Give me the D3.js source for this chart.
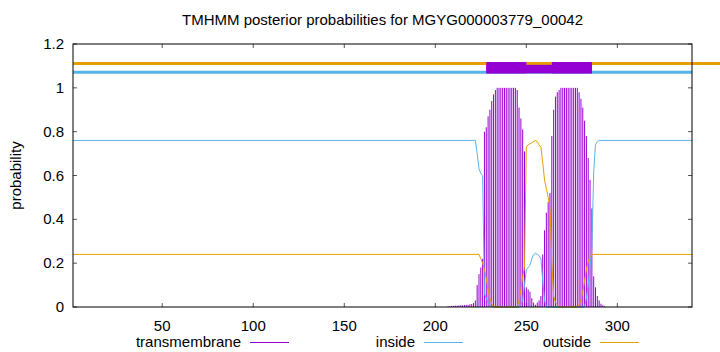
<!DOCTYPE html>
<html lang="en">
<head>
    <meta charset="utf-8">
    <title>TMHMM posterior probabilities</title>
    <style>
        body { margin: 0; background: white; }
        svg { display: block; font-family: "Liberation Sans", Arial, sans-serif; font-size: 15px; }
        .tick-label { fill: black; }
    </style>
</head>
<body>
<svg width="720" height="352"></svg>

<script src="https://d3js.org/d3.v7.min.js"></script>
<script>
  const title = "TMHMM posterior probabilities for MGYG000003779_00042";
  const seqLength = 341;
  const xTicks = [50, 100, 150, 200, 250, 300];
  const yTicks = [0, 0.2, 0.4, 0.6, 0.8, 1, 1.2];

  // transmembrane posterior, one value per residue starting at tmFirst
  const tmFirst = 207;
  const tmValues = [
    0.003, 0.004, 0.005, 0.005, 0.006, 0.006, 0.007, 0.008, 0.008, 0.009,  // 207-216
    0.010, 0.010, 0.012, 0.014, 0.018, 0.03, 0.10, 0.15, 0.18, 0.22,       // 217-226
    0.80, 0.82, 0.87, 0.90, 0.94, 0.97, 0.99, 1, 1, 1,                     // 227-236
    1, 1, 1, 1, 1, 1, 1, 1, 0.99, 0.91,                                    // 237-246
    0.86, 0.81, 0.71, 0.09, 0.08, 0.07, 0.04, 0.02, 0.01, 0.02,            // 247-256
    0.03, 0.05, 0.24, 0.35, 0.43, 0.48, 0.52, 0.78, 0.90, 0.96,            // 257-266
    0.98, 0.99, 1, 1, 1, 1, 1, 1, 1, 1,                                    // 267-276
    1, 1, 0.98, 0.95, 0.91, 0.85, 0.78, 0.68, 0.58, 0.45,                  // 277-286
    0.14, 0.09, 0.05, 0.03, 0.015, 0.008, 0.004                            // 287-293
  ];

  // inside / outside posterior as [residue, probability]
  const insidePoints = [
    [1, 0.76], [222, 0.76], [223, 0.70], [224, 0.63], [225, 0.61], [226, 0.60],
    [227, 0.06], [228, 0.04], [229, 0.02], [230, 0.01], [231, 0], [246, 0],
    [247, 0.01], [248, 0.03], [249, 0.10], [250, 0.17], [251, 0.18], [252, 0.19],
    [253, 0.22], [254, 0.24], [255, 0.245], [256, 0.24], [257, 0.235], [258, 0.22],
    [259, 0.12], [260, 0.03], [261, 0], [282, 0], [283, 0.04], [284, 0.10],
    [285, 0.18], [286, 0.27], [287, 0.62], [288, 0.74], [289, 0.755], [290, 0.76],
    [341, 0.76]
  ];
  const outsidePoints = [
    [1, 0.24], [224, 0.24], [225, 0.22], [226, 0.20], [227, 0.17], [228, 0.13],
    [229, 0.08], [230, 0.04], [231, 0.015], [232, 0], [245, 0], [246, 0.03],
    [247, 0.08], [248, 0.14], [249, 0.18], [250, 0.73], [251, 0.74], [252, 0.745],
    [253, 0.75], [254, 0.755], [255, 0.76], [256, 0.755], [257, 0.74], [258, 0.73],
    [259, 0.66], [260, 0.58], [261, 0.54], [262, 0.50], [263, 0.45], [264, 0.20],
    [265, 0.05], [266, 0.02], [267, 0.01], [268, 0], [278, 0], [279, 0.01],
    [280, 0.03], [281, 0.07], [282, 0.12], [283, 0.17], [284, 0.21], [285, 0.23],
    [286, 0.24], [341, 0.24]
  ];

  // predicted topology drawn above the curves
  const tmSegments = [[228, 250], [264, 286]];

  const legendItems = ["transmembrane", "inside", "outside"];

  const colors = {tm: "#9400D3", inside: "#56B4E9", outside: "#E69F00"};

  const svg = d3.select("svg");
  const W = +svg.attr("width");
  const margin = {top: 44, right: 28, bottom: 45, left: 73};
  const width = W - margin.left - margin.right;
  const height = +svg.attr("height") - margin.top - margin.bottom;

  const x = d3.scaleLinear().domain([1, seqLength]).range([margin.left, margin.left + width]);
  const y = d3.scaleLinear().domain([0, 1.2]).range([margin.top + height, margin.top]);

  // title
  svg.append("text")
    .attr("x", margin.left + width / 2)
    .attr("y", 25)
    .attr("text-anchor", "middle")
    .text(title);

  // y axis label
  svg.append("text")
    .attr("transform", `translate(21,${margin.top + height / 2}) rotate(-90)`)
    .attr("text-anchor", "middle")
    .text("probability");

  // ticks + labels (inward ticks, mirrored like gnuplot)
  const tickLen = 4;
  yTicks.forEach(t => {
    svg.append("line").attr("x1", margin.left).attr("x2", margin.left + tickLen)
      .attr("y1", y(t)).attr("y2", y(t)).attr("stroke", "#555");
    svg.append("line").attr("x1", margin.left + width).attr("x2", margin.left + width - tickLen)
      .attr("y1", y(t)).attr("y2", y(t)).attr("stroke", "#555");
    svg.append("text").attr("class", "tick-label")
      .attr("x", margin.left - 9).attr("y", y(t) + 5)
      .attr("text-anchor", "end")
      .text(d3.format("~g")(t));
  });
  xTicks.forEach(t => {
    svg.append("line").attr("x1", x(t)).attr("x2", x(t))
      .attr("y1", margin.top + height).attr("y2", margin.top + height - tickLen).attr("stroke", "#555");
    svg.append("line").attr("x1", x(t)).attr("x2", x(t))
      .attr("y1", margin.top).attr("y2", margin.top + tickLen).attr("stroke", "#555");
    svg.append("text").attr("class", "tick-label")
      .attr("x", x(t)).attr("y", margin.top + height + 24)
      .attr("text-anchor", "middle")
      .text(t);
  });

  // topology lines
  svg.append("line")
    .attr("x1", x(1)).attr("x2", W)
    .attr("y1", y(1.111)).attr("y2", y(1.111))
    .attr("stroke", colors.outside).attr("stroke-width", 3);
  svg.append("line")
    .attr("x1", x(1)).attr("x2", x(seqLength))
    .attr("y1", y(1.071)).attr("y2", y(1.071))
    .attr("stroke", colors.inside).attr("stroke-width", 3);
  svg.append("rect")
    .attr("x", x(tmSegments[0][0]))
    .attr("width", x(tmSegments[tmSegments.length - 1][1]) - x(tmSegments[0][0]))
    .attr("y", y(1.105)).attr("height", y(1.066) - y(1.105))
    .attr("fill", colors.tm);
  svg.selectAll("rect.tmbox")
    .data(tmSegments)
    .enter().append("rect")
    .attr("class", "tmbox")
    .attr("x", d => x(d[0]))
    .attr("width", d => x(d[1]) - x(d[0]))
    .attr("y", y(1.118)).attr("height", y(1.066) - y(1.118))
    .attr("fill", colors.tm);

  // transmembrane impulses
  svg.selectAll("line.impulse")
    .data(tmValues)
    .enter().append("line")
    .attr("class", "impulse")
    .attr("x1", (d, i) => x(tmFirst + i)).attr("x2", (d, i) => x(tmFirst + i))
    .attr("y1", y(0)).attr("y2", d => y(d))
    .attr("stroke", colors.tm).attr("stroke-width", 1);

  const line = d3.line().x(d => x(d[0])).y(d => y(d[1]));
  svg.append("path").datum(insidePoints)
    .attr("d", line).attr("fill", "none")
    .attr("stroke", colors.inside).attr("stroke-width", 1);
  svg.append("path").datum(outsidePoints)
    .attr("d", line).attr("fill", "none")
    .attr("stroke", colors.outside).attr("stroke-width", 1);

  // border
  svg.append("rect")
    .attr("x", margin.left).attr("y", margin.top)
    .attr("width", width).attr("height", height)
    .attr("fill", "none").attr("stroke", "black").attr("stroke-width", 1);

  // legend
  const legendX = [241, 415, 591];
  const legendColor = [colors.tm, colors.inside, colors.outside];
  legendItems.forEach((name, i) => {
    svg.append("text")
      .attr("x", legendX[i]).attr("y", 347)
      .attr("text-anchor", "end")
      .text(name);
    svg.append("line")
      .attr("x1", legendX[i] + 9).attr("x2", legendX[i] + 48)
      .attr("y1", 342.5).attr("y2", 342.5)
      .attr("stroke", legendColor[i]).attr("stroke-width", 1);
  });
</script>
</body>
</html>
